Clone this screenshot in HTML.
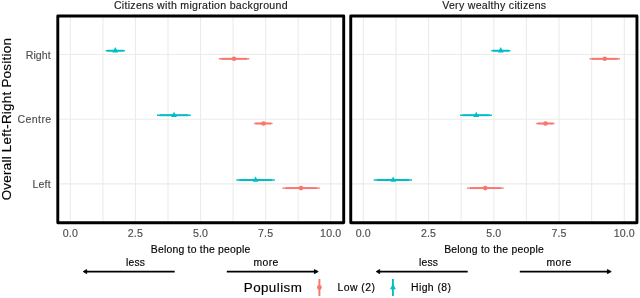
<!DOCTYPE html>
<html><head><meta charset="utf-8"><title>chart</title>
<style>
html,body{margin:0;padding:0;background:#fff;}
svg{display:block;will-change:transform;}
text{font-family:"Liberation Sans",sans-serif;stroke-width:0.15px;paint-order:stroke;}
</style></head><body>
<svg width="640" height="298" viewBox="0 0 640 298">
<rect width="640" height="298" fill="#ffffff"/>
<g>
<line x1="70.35" x2="70.35" y1="16.0" y2="222.75" stroke="#ebebeb" stroke-width="1.1"/>
<line x1="102.90" x2="102.90" y1="16.0" y2="222.75" stroke="#ebebeb" stroke-width="1.1"/>
<line x1="135.45" x2="135.45" y1="16.0" y2="222.75" stroke="#ebebeb" stroke-width="1.1"/>
<line x1="168.00" x2="168.00" y1="16.0" y2="222.75" stroke="#ebebeb" stroke-width="1.1"/>
<line x1="200.55" x2="200.55" y1="16.0" y2="222.75" stroke="#ebebeb" stroke-width="1.1"/>
<line x1="233.10" x2="233.10" y1="16.0" y2="222.75" stroke="#ebebeb" stroke-width="1.1"/>
<line x1="265.65" x2="265.65" y1="16.0" y2="222.75" stroke="#ebebeb" stroke-width="1.1"/>
<line x1="298.20" x2="298.20" y1="16.0" y2="222.75" stroke="#ebebeb" stroke-width="1.1"/>
<line x1="330.75" x2="330.75" y1="16.0" y2="222.75" stroke="#ebebeb" stroke-width="1.1"/>
<line x1="57.8" x2="343.7" y1="54.5" y2="54.5" stroke="#ebebeb" stroke-width="1.1"/>
<line x1="57.8" x2="343.7" y1="119.2" y2="119.2" stroke="#ebebeb" stroke-width="1.1"/>
<line x1="57.8" x2="343.7" y1="183.9" y2="183.9" stroke="#ebebeb" stroke-width="1.1"/>
<line x1="105.7" x2="124.9" y1="50.7" y2="50.7" stroke="#00BFC4" stroke-width="1.4"/>
<line x1="107.24" x2="123.36" y1="50.7" y2="50.7" stroke="#00BFC4" stroke-width="1.9"/>
<path d="M115.30 47.10 L118.20 52.50 L112.40 52.50 Z" fill="#00BFC4"/>
<line x1="218.8" x2="249.3" y1="58.8" y2="58.8" stroke="#F8766D" stroke-width="1.4"/>
<line x1="221.24" x2="246.86" y1="58.8" y2="58.8" stroke="#F8766D" stroke-width="1.9"/>
<circle cx="234.0" cy="58.8" r="2.3" fill="#F8766D"/>
<line x1="157.0" x2="190.75" y1="115.25" y2="115.25" stroke="#00BFC4" stroke-width="1.4"/>
<line x1="159.70" x2="188.05" y1="115.25" y2="115.25" stroke="#00BFC4" stroke-width="1.9"/>
<path d="M174.00 111.65 L176.90 117.05 L171.10 117.05 Z" fill="#00BFC4"/>
<line x1="254.25" x2="272.5" y1="123.5" y2="123.5" stroke="#F8766D" stroke-width="1.4"/>
<line x1="255.71" x2="271.04" y1="123.5" y2="123.5" stroke="#F8766D" stroke-width="1.9"/>
<circle cx="263.5" cy="123.5" r="2.3" fill="#F8766D"/>
<line x1="236.3" x2="274.9" y1="180.0" y2="180.0" stroke="#00BFC4" stroke-width="1.4"/>
<line x1="239.39" x2="271.81" y1="180.0" y2="180.0" stroke="#00BFC4" stroke-width="1.9"/>
<path d="M255.60 176.40 L258.50 181.80 L252.70 181.80 Z" fill="#00BFC4"/>
<line x1="282.25" x2="319.9" y1="188.1" y2="188.1" stroke="#F8766D" stroke-width="1.4"/>
<line x1="285.26" x2="316.89" y1="188.1" y2="188.1" stroke="#F8766D" stroke-width="1.9"/>
<circle cx="301.0" cy="188.1" r="2.3" fill="#F8766D"/>
<rect x="57.8" y="16.0" width="285.9" height="206.75" fill="none" stroke="#000" stroke-width="2.9" stroke-linejoin="round"/>
<text x="113.91" y="9.30" font-size="10.58" fill="#1a1a1a" stroke="#1a1a1a" textLength="173.68" lengthAdjust="spacing">Citizens with migration background</text>
<text x="62.71" y="237.30" font-size="10.60" fill="#4d4d4d" stroke="#4d4d4d" textLength="15.08" lengthAdjust="spacing">0.0</text>
<text x="127.81" y="237.30" font-size="10.60" fill="#4d4d4d" stroke="#4d4d4d" textLength="15.08" lengthAdjust="spacing">2.5</text>
<text x="192.91" y="237.30" font-size="10.60" fill="#4d4d4d" stroke="#4d4d4d" textLength="15.08" lengthAdjust="spacing">5.0</text>
<text x="258.01" y="237.30" font-size="10.60" fill="#4d4d4d" stroke="#4d4d4d" textLength="15.08" lengthAdjust="spacing">7.5</text>
<text x="320.09" y="237.30" font-size="10.60" fill="#4d4d4d" stroke="#4d4d4d" textLength="21.12" lengthAdjust="spacing">10.0</text>
<text x="150.73" y="252.75" font-size="10.43" fill="#000" stroke="#000" textLength="99.63" lengthAdjust="spacing">Belong to the people</text>
<text x="125.89" y="265.50" font-size="10.27" fill="#000" stroke="#000" textLength="19.03" lengthAdjust="spacing">less</text>
<text x="253.60" y="265.50" font-size="10.37" fill="#000" stroke="#000" textLength="24.61" lengthAdjust="spacing">more</text>
<line x1="86" x2="174.7" y1="271.6" y2="271.6" stroke="#000" stroke-width="1.7"/>
<path d="M83.2 271.6 L86.7 269.55 L86.7 273.65000000000003 Z" fill="#000" stroke="#000" stroke-width="0.8" stroke-linejoin="round"/>
<line x1="226.8" x2="315" y1="271.6" y2="271.6" stroke="#000" stroke-width="1.7"/>
<path d="M318.25 271.6 L314.4 269.55 L314.4 273.65000000000003 Z" fill="#000" stroke="#000" stroke-width="0.8" stroke-linejoin="round"/>
</g>
<g>
<line x1="363.30" x2="363.30" y1="16.0" y2="222.75" stroke="#ebebeb" stroke-width="1.1"/>
<line x1="395.93" x2="395.93" y1="16.0" y2="222.75" stroke="#ebebeb" stroke-width="1.1"/>
<line x1="428.55" x2="428.55" y1="16.0" y2="222.75" stroke="#ebebeb" stroke-width="1.1"/>
<line x1="461.18" x2="461.18" y1="16.0" y2="222.75" stroke="#ebebeb" stroke-width="1.1"/>
<line x1="493.80" x2="493.80" y1="16.0" y2="222.75" stroke="#ebebeb" stroke-width="1.1"/>
<line x1="526.42" x2="526.42" y1="16.0" y2="222.75" stroke="#ebebeb" stroke-width="1.1"/>
<line x1="559.05" x2="559.05" y1="16.0" y2="222.75" stroke="#ebebeb" stroke-width="1.1"/>
<line x1="591.67" x2="591.67" y1="16.0" y2="222.75" stroke="#ebebeb" stroke-width="1.1"/>
<line x1="624.30" x2="624.30" y1="16.0" y2="222.75" stroke="#ebebeb" stroke-width="1.1"/>
<line x1="350.75" x2="636.95" y1="54.5" y2="54.5" stroke="#ebebeb" stroke-width="1.1"/>
<line x1="350.75" x2="636.95" y1="119.2" y2="119.2" stroke="#ebebeb" stroke-width="1.1"/>
<line x1="350.75" x2="636.95" y1="183.9" y2="183.9" stroke="#ebebeb" stroke-width="1.1"/>
<line x1="491.25" x2="510.5" y1="50.7" y2="50.7" stroke="#00BFC4" stroke-width="1.4"/>
<line x1="492.79" x2="508.96" y1="50.7" y2="50.7" stroke="#00BFC4" stroke-width="1.9"/>
<path d="M500.75 47.10 L503.65 52.50 L497.85 52.50 Z" fill="#00BFC4"/>
<line x1="589.5" x2="620.0" y1="58.8" y2="58.8" stroke="#F8766D" stroke-width="1.4"/>
<line x1="591.94" x2="617.56" y1="58.8" y2="58.8" stroke="#F8766D" stroke-width="1.9"/>
<circle cx="604.75" cy="58.8" r="2.3" fill="#F8766D"/>
<line x1="460.0" x2="492.0" y1="115.25" y2="115.25" stroke="#00BFC4" stroke-width="1.4"/>
<line x1="462.56" x2="489.44" y1="115.25" y2="115.25" stroke="#00BFC4" stroke-width="1.9"/>
<path d="M476.25 111.65 L479.15 117.05 L473.35 117.05 Z" fill="#00BFC4"/>
<line x1="536.25" x2="554.5" y1="123.5" y2="123.5" stroke="#F8766D" stroke-width="1.4"/>
<line x1="537.71" x2="553.04" y1="123.5" y2="123.5" stroke="#F8766D" stroke-width="1.9"/>
<circle cx="545.5" cy="123.5" r="2.3" fill="#F8766D"/>
<line x1="373.75" x2="412.0" y1="180.0" y2="180.0" stroke="#00BFC4" stroke-width="1.4"/>
<line x1="376.81" x2="408.94" y1="180.0" y2="180.0" stroke="#00BFC4" stroke-width="1.9"/>
<path d="M393.25 176.40 L396.15 181.80 L390.35 181.80 Z" fill="#00BFC4"/>
<line x1="467.0" x2="503.75" y1="188.1" y2="188.1" stroke="#F8766D" stroke-width="1.4"/>
<line x1="469.94" x2="500.81" y1="188.1" y2="188.1" stroke="#F8766D" stroke-width="1.9"/>
<circle cx="485.25" cy="188.1" r="2.3" fill="#F8766D"/>
<rect x="350.75" y="16.0" width="286.2" height="206.75" fill="none" stroke="#000" stroke-width="2.9" stroke-linejoin="round"/>
<text x="442.17" y="9.30" font-size="10.58" fill="#1a1a1a" stroke="#1a1a1a" textLength="103.96" lengthAdjust="spacing">Very wealthy citizens</text>
<text x="355.66" y="237.30" font-size="10.60" fill="#4d4d4d" stroke="#4d4d4d" textLength="15.08" lengthAdjust="spacing">0.0</text>
<text x="420.91" y="237.30" font-size="10.60" fill="#4d4d4d" stroke="#4d4d4d" textLength="15.08" lengthAdjust="spacing">2.5</text>
<text x="486.16" y="237.30" font-size="10.60" fill="#4d4d4d" stroke="#4d4d4d" textLength="15.08" lengthAdjust="spacing">5.0</text>
<text x="551.41" y="237.30" font-size="10.60" fill="#4d4d4d" stroke="#4d4d4d" textLength="15.08" lengthAdjust="spacing">7.5</text>
<text x="613.64" y="237.30" font-size="10.60" fill="#4d4d4d" stroke="#4d4d4d" textLength="21.12" lengthAdjust="spacing">10.0</text>
<text x="444.13" y="252.75" font-size="10.43" fill="#000" stroke="#000" textLength="99.63" lengthAdjust="spacing">Belong to the people</text>
<text x="418.89" y="265.50" font-size="10.27" fill="#000" stroke="#000" textLength="19.03" lengthAdjust="spacing">less</text>
<text x="546.60" y="265.50" font-size="10.37" fill="#000" stroke="#000" textLength="24.61" lengthAdjust="spacing">more</text>
<line x1="379.0" x2="467.7" y1="271.6" y2="271.6" stroke="#000" stroke-width="1.7"/>
<path d="M376.2 271.6 L379.7 269.55 L379.7 273.65000000000003 Z" fill="#000" stroke="#000" stroke-width="0.8" stroke-linejoin="round"/>
<line x1="519.8" x2="608.0" y1="271.6" y2="271.6" stroke="#000" stroke-width="1.7"/>
<path d="M611.25 271.6 L607.4 269.55 L607.4 273.65000000000003 Z" fill="#000" stroke="#000" stroke-width="0.8" stroke-linejoin="round"/>
</g>
<text x="25.68" y="58.70" font-size="10.60" fill="#4d4d4d" stroke="#4d4d4d" textLength="25.12" lengthAdjust="spacing">Right</text>
<text x="17.43" y="123.40" font-size="10.60" fill="#4d4d4d" stroke="#4d4d4d" textLength="33.77" lengthAdjust="spacing">Centre</text>
<text x="32.44" y="188.10" font-size="10.60" fill="#4d4d4d" stroke="#4d4d4d" textLength="18.26" lengthAdjust="spacing">Left</text>
<text transform="translate(11.3,200.3) rotate(-90)" font-size="13.4" fill="#000" stroke="#000" textLength="162.16" lengthAdjust="spacing">Overall Left-Right Position</text>
<text x="243.80" y="291.80" font-size="13.39" fill="#000" stroke="#000" textLength="57.99" lengthAdjust="spacing">Populism</text>
<line x1="319.4" x2="319.4" y1="279.0" y2="296.0" stroke="#F8766D" stroke-width="1.9"/>
<circle cx="319.4" cy="287.5" r="2.4" fill="#F8766D"/>
<text x="337.40" y="291.30" font-size="10.45" fill="#000" stroke="#000" textLength="37.68" lengthAdjust="spacing">Low (2)</text>
<line x1="392.9" x2="392.9" y1="279.0" y2="296.0" stroke="#00BFC4" stroke-width="1.9"/>
<path d="M392.90 283.80 L395.80 289.20 L390.00 289.20 Z" fill="#00BFC4"/>
<text x="410.90" y="291.30" font-size="10.45" fill="#000" stroke="#000" textLength="40.19" lengthAdjust="spacing">High (8)</text>
</svg></body></html>
